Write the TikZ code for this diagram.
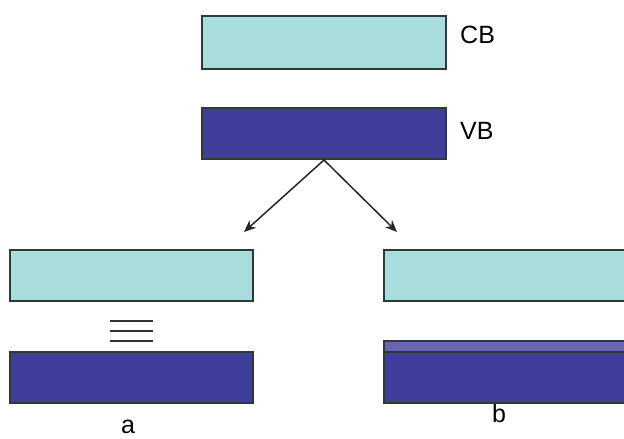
\documentclass[tikz,border=0pt]{standalone}
\usepackage{fontspec}
\setmainfont{Liberation Sans}
\usetikzlibrary{arrows.meta}
\definecolor{cbcol}{HTML}{A9DCDC}
\definecolor{vbcol}{HTML}{3F3F9B}
\definecolor{bandcol}{HTML}{6865AE}
\definecolor{edgecol}{HTML}{2E3A3A}
\tikzset{
  band/.style={draw=edgecol, line width=1.2pt, inner sep=0pt, outer sep=0pt, anchor=north west},
  cb/.style={band, fill=cbcol},
  vb/.style={band, fill=vbcol},
  lbl/.style={font=\fontsize{25}{27}\selectfont, inner sep=0pt},
  arr/.style={-{Stealth[length=12pt,width=10pt]}, line width=1.5pt, draw=black!85}
}
\begin{document}
\begin{tikzpicture}[x=1pt,y=-1pt]
\path[use as bounding box] (0,0) rectangle (624,439);
\begin{scope}
\clip (0,0) rectangle (624,439);
\node[cb, minimum width=244pt, minimum height=53pt] (cbtop) at (202,16) {};
\node[vb, minimum width=244pt, minimum height=51pt] (vbtop) at (202,108) {};
\node[lbl, anchor=west] (cblbl) at (460,35) {CB};
\node[lbl, anchor=west] (vblbl) at (460,131) {VB};
\coordinate (apex) at (324,160);
\coordinate (tipa) at (244,232);
\coordinate (tipb) at (397,232);
\draw[arr] (apex) -- (tipa);
\draw[arr] (apex) -- (tipb);
\node[cb, minimum width=243pt, minimum height=51pt] (cba) at (10,250) {};
\node[vb, minimum width=243pt, minimum height=51pt] (vba) at (10,352) {};
\coordinate (eqa1) at (110,321); \coordinate (eqb1) at (153,321);
\coordinate (eqa2) at (110,331); \coordinate (eqb2) at (153,331);
\coordinate (eqa3) at (110,341); \coordinate (eqb3) at (153,341);
\draw[line width=1.4pt, black!80] (eqa1) -- (eqb1) (eqa2) -- (eqb2) (eqa3) -- (eqb3);
\node[lbl] (la) at (128,427) {a};
\node[lbl] (lb) at (499,414) {b};
\node[cb, minimum width=250pt, minimum height=51pt] (cbb) at (384,250) {};
\node[band, fill=bandcol, minimum width=250pt, minimum height=62pt] (vbb) at (384,341) {};
\node[band, fill=vbcol, minimum width=250pt, minimum height=51pt] (vbbcore) at (384,352) {};
\end{scope}
\end{tikzpicture}
\end{document}
